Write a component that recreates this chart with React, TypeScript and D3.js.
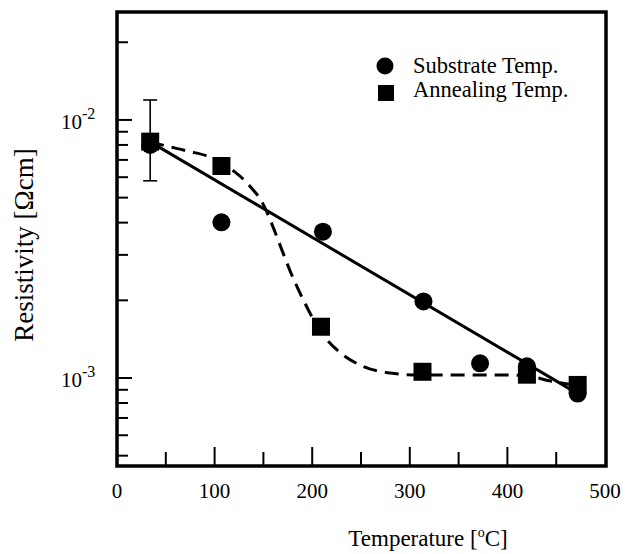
import * as React from "react";
import * as d3 from "d3";

// substrate temperature series (circles)
const substrateTemp = [34, 107, 211, 314, 372, 420, 472];
const substrateRho = [8.0e-3, 4.01e-3, 3.69e-3, 1.98e-3, 1.14e-3, 1.11e-3, 8.7e-4];

// annealing temperature series (squares)
const annealTemp = [34, 107, 209, 313, 420, 472];
const annealRho = [8.24e-3, 6.63e-3, 1.58e-3, 1.057e-3, 1.03e-3, 9.4e-4];

// error bar on the room temperature point
const errTemp = 34;
const errRho = [5.81e-3, 1.195e-2];

// solid fit (substrate)
const solidTemp = [34, 472];
const solidRho = [8.22e-3, 8.7e-4];

// dashed fit (annealing)
const dashTemp = [34, 51, 72, 97, 108, 121, 136, 149, 159, 169, 179, 190, 200, 210, 228, 252, 280, 310, 351, 392, 420, 444, 471];
const dashRho = [8.22e-3, 7.92e-3, 7.58e-3, 7.13e-3, 6.75e-3, 6.28e-3, 5.55e-3, 4.77e-3, 3.92e-3, 3.13e-3, 2.51e-3, 2.04e-3, 1.72e-3, 1.49e-3, 1.26e-3, 1.11e-3, 1.045e-3, 1.027e-3, 1.027e-3, 1.027e-3, 1.019e-3, 9.73e-4, 9.39e-4];

const xMajor = [0, 100, 200, 300, 400, 500];
const xMinor = [50, 150, 250, 350, 450];
const yMajor = [1e-3, 1e-2];
const yMinor = [5e-4, 6e-4, 7e-4, 8e-4, 9e-4, 2e-3, 3e-3, 4e-3, 5e-3, 6e-3, 7e-3, 8e-3, 9e-3, 2e-2];
const yLabels = ["10", "10"];
const yExp = ["-3", "-2"];
const legendNames = ["Substrate Temp.", "Annealing Temp."];

const W = 643;
const H = 554;
const left = 117;
const right = 605;
const top = 12;
const bottom = 466;
const font = "'Liberation Serif', 'Times New Roman', serif";

export default function App() {
  const x = d3.scaleLinear().domain([0, 500]).range([left, right]);
  const y = d3.scaleLog().domain([4.56e-4, 2.62e-2]).range([bottom, top]);

  const solid = d3
    .line<number>()
    .x((d) => x(solidTemp[d]))
    .y((d) => y(solidRho[d]));
  const dashed = d3
    .line<number>()
    .x((d) => x(dashTemp[d]))
    .y((d) => y(dashRho[d]))
    .curve(d3.curveMonotoneX);

  const ex = x(errTemp);
  const sq = 18;

  return (
    <svg
      width={W}
      height={H}
      style={{ position: "absolute", left: 0, top: 0, background: "white" }}
      fontFamily={font}
    >
      {/* fit lines */}
      <path d={solid(d3.range(solidTemp.length)) || ""} fill="none" stroke="black" strokeWidth={3} />
      <path
        d={dashed(d3.range(dashTemp.length)) || ""}
        fill="none"
        stroke="black"
        strokeWidth={3}
        strokeDasharray="14 8"
      />

      {/* error bar */}
      <g stroke="black" strokeWidth={1.6}>
        <line x1={ex} x2={ex} y1={y(errRho[0])} y2={y(errRho[1])} />
        <line x1={ex - 7} x2={ex + 7} y1={y(errRho[0])} y2={y(errRho[0])} />
        <line x1={ex - 7} x2={ex + 7} y1={y(errRho[1])} y2={y(errRho[1])} />
      </g>

      {/* markers */}
      {substrateTemp.map((t, i) => (
        <circle key={"c" + i} cx={x(t)} cy={y(substrateRho[i])} r={9} fill="black" />
      ))}
      {annealTemp.map((t, i) => (
        <rect
          key={"s" + i}
          x={x(t) - sq / 2}
          y={y(annealRho[i]) - sq / 2}
          width={sq}
          height={sq}
          fill="black"
        />
      ))}

      {/* ticks */}
      <g stroke="black" strokeWidth={2}>
        {xMajor.slice(1, -1).map((t) => (
          <line key={"xM" + t} x1={x(t)} x2={x(t)} y1={bottom} y2={bottom - 19} />
        ))}
        {xMinor.map((t) => (
          <line key={"xm" + t} x1={x(t)} x2={x(t)} y1={bottom} y2={bottom - 14} />
        ))}
        {yMajor.map((v) => (
          <line key={"yM" + v} x1={left} x2={left + 15} y1={y(v)} y2={y(v)} />
        ))}
        {yMinor.map((v) => (
          <line key={"ym" + v} x1={left} x2={left + 11} y1={y(v)} y2={y(v)} />
        ))}
      </g>

      {/* frame */}
      <rect
        x={left}
        y={top}
        width={right - left + 1}
        height={bottom - top}
        fill="none"
        stroke="black"
        strokeWidth={3.5}
      />

      {/* tick labels */}
      <g fontSize={21} textAnchor="middle">
        {xMajor.map((t) => (
          <text key={"xl" + t} x={x(t)} y={498}>
            {t}
          </text>
        ))}
      </g>
      {yMajor.map((v, i) => (
        <text key={"yl" + v} x={61} y={y(v) + 9} fontSize={21}>
          {yLabels[i]}
          <tspan fontSize={16} dy={-10}>
            {yExp[i]}
          </tspan>
        </text>
      ))}

      {/* axis titles */}
      <text x={428} y={546} fontSize={23} textAnchor="middle">
        Temperature [
        <tspan fontSize={14} dy={-9}>
          o
        </tspan>
        <tspan dy={9}>C]</tspan>
      </text>
      <text
        transform={`translate(33,245) rotate(-90)`}
        fontSize={27}
        textAnchor="middle"
      >
        Resistivity [Ωcm]
      </text>

      {/* legend */}
      <circle cx={385} cy={66} r={8.5} fill="black" />
      <rect x={378} y={85} width={16} height={16} fill="black" />
      <g fontSize={22.5}>
        <text x={413} y={72.5}>
          {legendNames[0]}
        </text>
        <text x={413} y={96.5}>
          {legendNames[1]}
        </text>
      </g>
    </svg>
  );
}
